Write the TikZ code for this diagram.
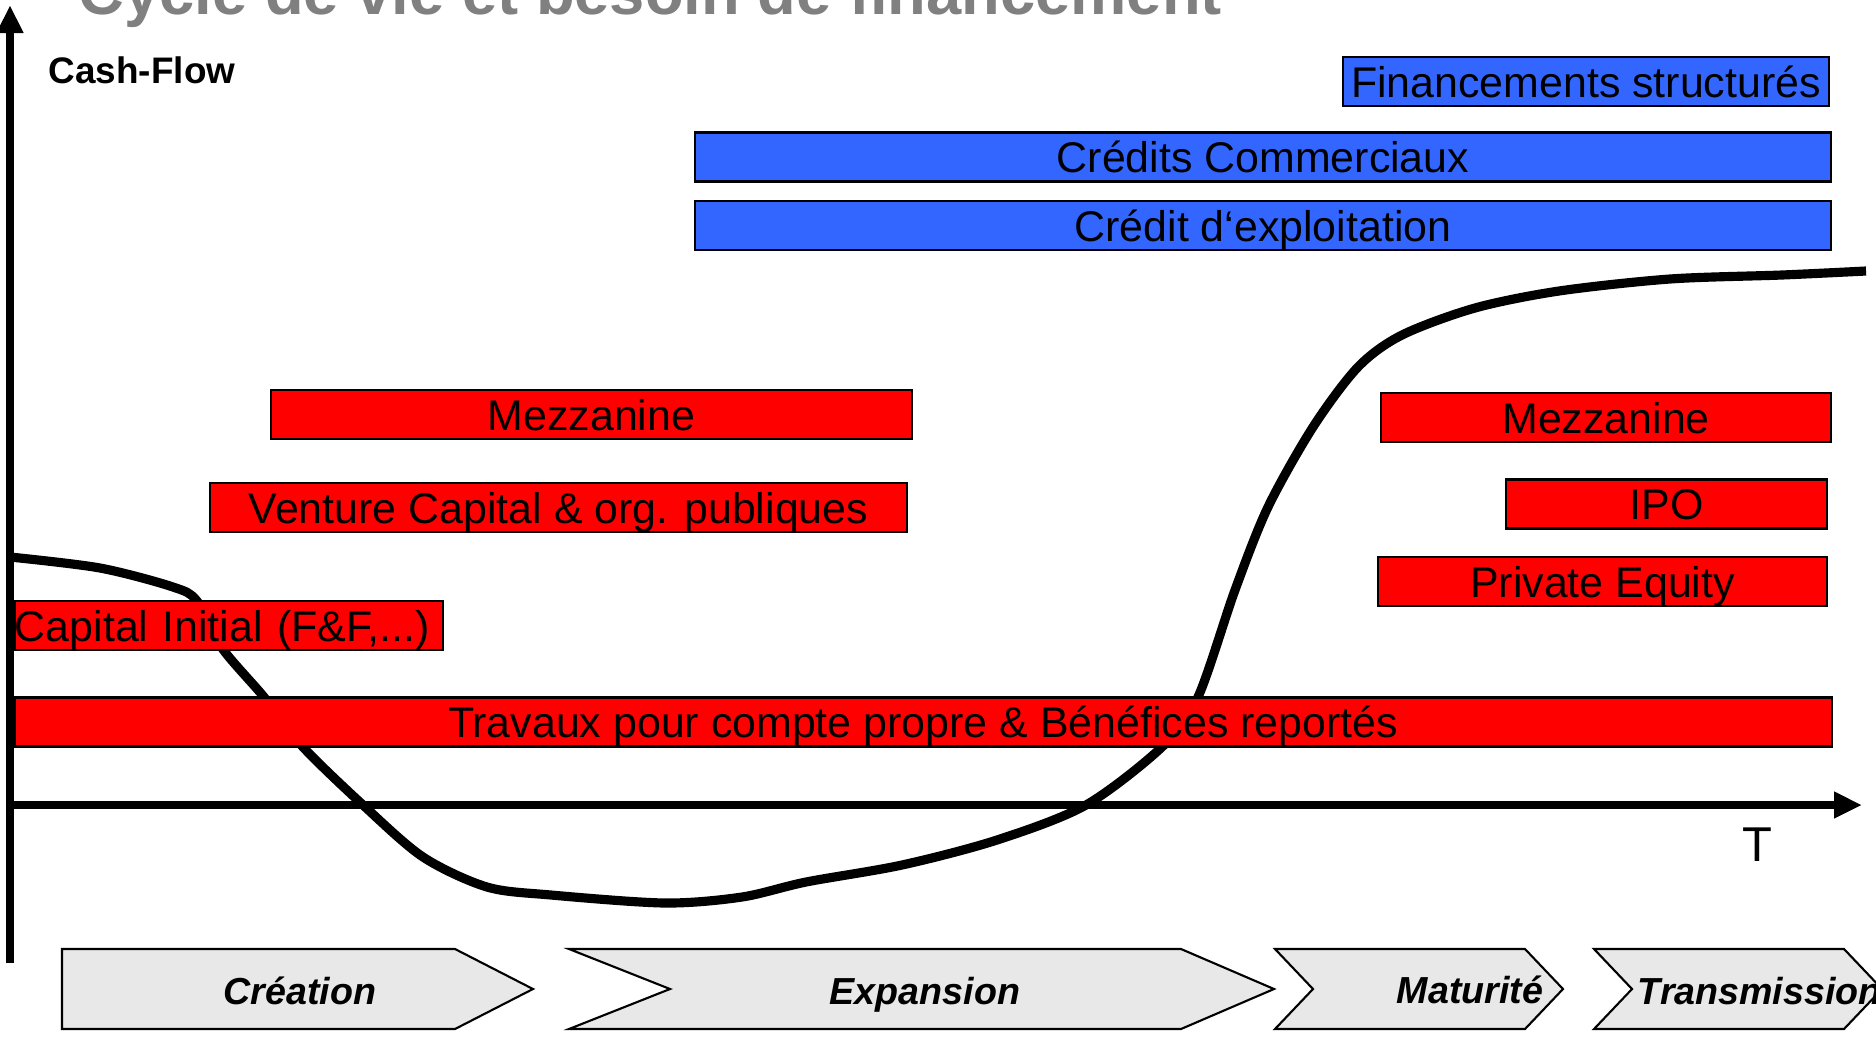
\documentclass[tikz,border=0pt]{standalone}
\usepackage{fontspec}
\setmainfont{Liberation Sans}
\usepackage{tikz}
\usetikzlibrary{arrows.meta}
\definecolor{boxred}{RGB}{255,0,0}
\definecolor{boxblue}{RGB}{51,102,255}
\definecolor{phasegray}{RGB}{232,232,232}
\definecolor{titlegray}{RGB}{128,128,128}
\tikzstyle{fbox} = [rectangle, draw, line width=0.6pt, inner sep=0pt, minimum height=0.49cm, text height=0.31cm, text depth=0pt, font=\fontsize{12.2}{14}\selectfont]
\tikzstyle{redbox} = [fbox, fill=boxred]
\tikzstyle{bluebox} = [fbox, fill=boxblue]
\tikzstyle{axis} = [draw, line width=2.4pt, -{Triangle[length=2.8mm, width=2.5mm]}]
\tikzstyle{phase} = [draw, fill=phasegray, line width=0.6pt]
\tikzstyle{phaselabel} = [anchor=base, inner sep=0pt, font=\fontsize{10.7}{12}\selectfont\bfseries\itshape]

\begin{document}
\begin{tikzpicture}[x=0.01cm, y=-0.01cm]
				\useasboundingbox (0,0) rectangle (1876,1036);
				\node [anchor=base west, inner sep=0pt, text=titlegray, font=\fontsize{18}{22}\selectfont\bfseries] (title) at (78,14) {Cycle de vie et besoin de financement};

				% cash-flow curve
				\draw [line width=2.6pt] plot [smooth, tension=0.5] coordinates {(10,557) (100,568) (173,587) (197,601) (222,648) (264,697) (302,746) (363,805) (423,857) (487,887) (551,895) (665,903) (742,897) (806,882) (902,865) (997,840) (1086,805) (1163,746) (1198,697) (1235,590) (1268,507) (1313,427) (1358,367) (1402,335) (1475,308) (1559,291) (1670,279) (1782,275) (1866,271)};

				\node [bluebox, minimum width=4.86cm] (finstruct) at (1586,81.5) {Financements structurés};
				\node [bluebox, minimum width=11.36cm] (credcomm) at (1263,157) {Crédits Commerciaux};
				\node [bluebox, minimum width=11.36cm] (credexpl) at (1263,225.5) {Crédit d‘exploitation};
				\node [redbox, minimum width=6.41cm] (mezzA) at (591.5,414.5) {Mezzanine};
				\node [redbox, minimum width=6.97cm] (venture) at (558.5,507.5) {Venture Capital \& org. publiques};
				\node [redbox, text width=4.28cm, align=left] (capinit) at (229,625.5) {\mbox{Capital Initial (F\&F,...)}};
				\node [redbox, minimum width=18.16cm] (travaux) at (923,722) {Travaux pour compte propre \& Bénéfices reportés};
				\node [redbox, minimum width=4.50cm] (mezzB) at (1606,417.5) {Mezzanine};
				\node [redbox, minimum width=3.21cm] (ipo) at (1666.5,504) {IPO};
				\node [redbox, minimum width=4.49cm] (privequity) at (1602.5,581.5) {Private Equity};

				% axes
				\coordinate (ybot) at (10,963);
				\coordinate (ytop) at (10,5);
				\coordinate (origin) at (10,805);
				\coordinate (xend) at (1862,805);
				\path [axis] (ybot) -- (ytop);
				\path [axis] (origin) -- (xend);
				\node [anchor=base west, inner sep=0pt, font=\fontsize{10.5}{12}\selectfont\bfseries] (cashflow) at (48,83) {Cash-Flow};
				\node [anchor=base, inner sep=0pt, font=\fontsize{13.9}{16}\selectfont] (tlabel) at (1757,861) {T};

				% phases
				\draw [phase] (62,949) -- (455,949) -- (533,989) -- (455,1029) -- (62,1029) -- cycle;
				\draw [phase] (569,949) -- (1181,949) -- (1274,989) -- (1181,1029) -- (569,1029) -- (670,989) -- cycle;
				\draw [phase] (1275,949) -- (1525,949) -- (1563,989) -- (1525,1029) -- (1275,1029) -- (1313,989) -- cycle;
				\draw [phase] (1594,949) -- (1844,949) -- (1882,989) -- (1844,1029) -- (1594,1029) -- (1632,989) -- cycle;
				\node [phaselabel] (creation) at (300,1004) {Création};
				\node [phaselabel] (expansion) at (925,1004) {Expansion};
				\node [phaselabel] (maturite) at (1470,1003) {Maturité};
				\node [phaselabel, anchor=base west] (transmission) at (1637,1004) {Transmission};
			\end{tikzpicture}
\end{document}
